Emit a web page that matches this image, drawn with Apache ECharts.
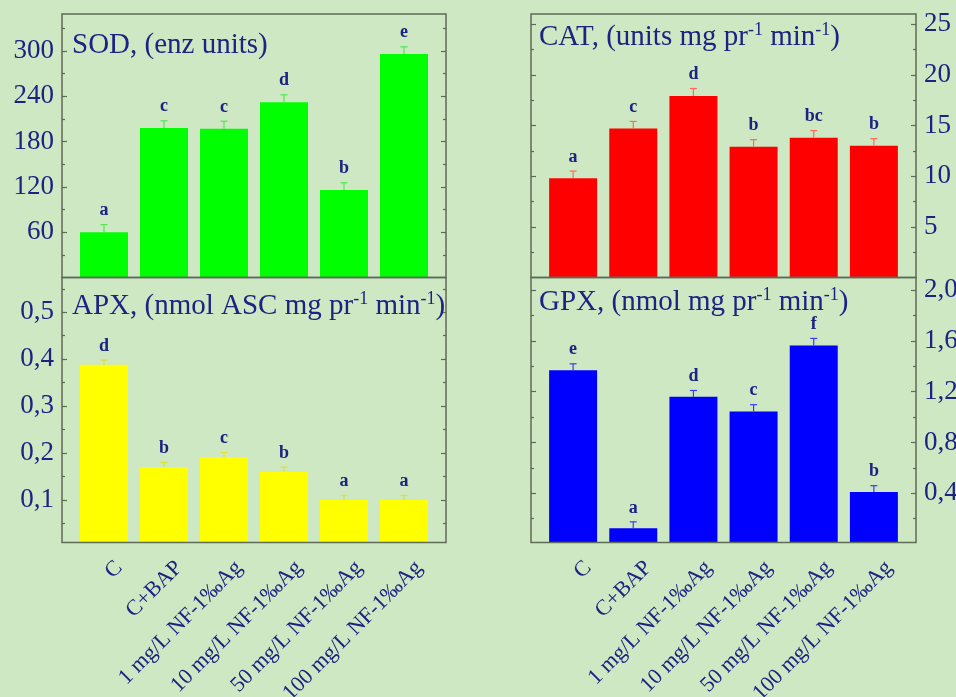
<!DOCTYPE html>
<html>
<head>
<meta charset="utf-8">
<script src="https://cdn.jsdelivr.net/npm/echarts@6/dist/echarts.min.js"></script>
<style>
html,body{margin:0;padding:0;background:#cde8c3;}
#chart{width:956px;height:697px;}
</style>
</head>
<body>
<div id="chart"></div>
<script>
// ---- data ----
const categories = ['C', 'C+BAP', '1 mg/L NF-1‰Ag', '10 mg/L NF-1‰Ag', '50 mg/L NF-1‰Ag', '100 mg/L NF-1‰Ag'];

const sodMean = [60, 198, 197, 232, 116, 296];
const sodErr = [10, 9.5, 10, 10, 9.5, 9.5];
const sodLetters = ['a', 'c', 'c', 'd', 'b', 'e'];
const sodTicks = [60, 120, 180, 240, 300];
const sodMinor = [30, 90, 150, 210, 270, 330];

const catMean = [9.8, 14.7, 17.9, 12.9, 13.8, 13.0];
const catErr = [0.7, 0.7, 0.75, 0.7, 0.7, 0.7];
const catLetters = ['a', 'c', 'd', 'b', 'bc', 'b'];
const catTicks = [5, 10, 15, 20, 25];
const catMinor = [2.5, 7.5, 12.5, 17.5, 22.5];

const apxMean = [0.388, 0.170, 0.191, 0.160, 0.100, 0.100];
const apxErr = [0.01, 0.01, 0.01, 0.01, 0.01, 0.01];
const apxLetters = ['d', 'b', 'c', 'b', 'a', 'a'];
const apxTicks = [0.1, 0.2, 0.3, 0.4, 0.5];
const apxMinor = [0.05, 0.15, 0.25, 0.35, 0.45, 0.55];

const gpxMean = [1.37, 0.125, 1.16, 1.045, 1.565, 0.41];
const gpxErr = [0.05, 0.05, 0.05, 0.053, 0.055, 0.05];
const gpxLetters = ['e', 'a', 'd', 'c', 'f', 'b'];
const gpxTicks = [0.4, 0.8, 1.2, 1.6, 2.0];
const gpxMinor = [0.2, 0.6, 1.0, 1.4, 1.8];

// ---- styling / layout ----
const NAVY = '#1e2282';
const FRAME = '#5e6b57';
const SERIF = '"Liberation Serif", "Times New Roman", serif';
const labelShift = 0.25;
const intFmt = v => String(v);
const decFmt = v => v.toFixed(1).replace('.', ',');

const panels = [
  {mean: sodMean, err: sodErr, letters: sodLetters, ticks: sodTicks, minor: sodMinor, fmt: intFmt,
   min: 0, max: 349, color: '#00ff00', errColor: '#4fe84f', side: 'left',
   left: 62, width: 384, top: 14, height: 263.5, xLabels: false,
   title: '{m|SOD, (enz units)}', titleLeft: 72, titleTop: 29},
  {mean: catMean, err: catErr, letters: catLetters, ticks: catTicks, minor: catMinor, fmt: intFmt,
   min: 0, max: 26, color: '#ff0000', errColor: '#ff6a5a', side: 'right',
   left: 531, width: 385, top: 14, height: 263.5, xLabels: false,
   title: '{m|CAT, (units mg pr}{s|-1}{m| min}{s|-1}{m|)}', titleLeft: 539, titleTop: 21},
  {mean: apxMean, err: apxErr, letters: apxLetters, ticks: apxTicks, minor: apxMinor, fmt: decFmt,
   min: 0.0095, max: 0.574, color: '#ffff00', errColor: '#e0e030', side: 'left',
   left: 62, width: 384, top: 277.5, height: 265, xLabels: true,
   title: '{m|APX, (nmol ASC mg pr}{s|-1}{m| min}{s|-1}{m|)}', titleLeft: 72, titleTop: 290},
  {mean: gpxMean, err: gpxErr, letters: gpxLetters, ticks: gpxTicks, minor: gpxMinor, fmt: decFmt,
   min: 0.0123, max: 2.1, color: '#0000ff', errColor: '#3a3aff', side: 'right',
   left: 531, width: 385, top: 277.5, height: 265, xLabels: true,
   title: '{m|GPX, (nmol mg pr}{s|-1}{m| min}{s|-1}{m|)}', titleLeft: 539, titleTop: 286}
];

const grid = [], xAxis = [], yAxis = [], series = [], title = [];

panels.forEach((p, k) => {
  grid.push({left: p.left, top: p.top, width: p.width, height: p.height, show: true,
    outerBoundsMode: 'none', containLabel: false,
    borderColor: FRAME, borderWidth: 1.5, backgroundColor: 'transparent', z: 10});

  xAxis.push({
    gridIndex: k, type: 'value', min: -0.7, max: 5.7, position: 'bottom',
    axisLine: {show: false, onZero: false}, axisTick: {show: false}, splitLine: {show: false},
    axisLabel: p.xLabels ? {
      show: true,
      customValues: categories.map((c, i) => i + labelShift),
      formatter: v => categories[Math.round(v - labelShift)],
      rotate: 45, margin: 22, fontSize: 22, fontFamily: SERIF, color: NAVY
    } : {show: false}
  });

  const base = yAxis.length;
  const other = p.side === 'left' ? 'right' : 'left';
  const mk = (pos, tickVals, len, withLabels) => ({
    gridIndex: k, type: 'value', position: pos, min: p.min, max: p.max,
    axisLine: {show: false, onZero: false}, splitLine: {show: false},
    axisTick: {show: true, inside: true, length: len, customValues: tickVals,
      lineStyle: {color: FRAME, width: 1.2}},
    axisLabel: withLabels ? {show: true, customValues: tickVals, formatter: p.fmt,
      fontSize: 27, fontFamily: SERIF, color: NAVY, margin: 8} : {show: false}
  });
  yAxis.push(mk(p.side, p.ticks, 5, true));
  yAxis.push(mk(p.side, p.minor, 3, false));
  yAxis.push(mk(other, p.ticks, 5, false));
  yAxis.push(mk(other, p.minor, 3, false));

  series.push({
    type: 'bar', xAxisIndex: k, yAxisIndex: base, barWidth: 48, silent: true,
    itemStyle: {color: p.color}, clip: true,
    data: p.mean.map((v, i) => [i, v])
  });

  series.push({
    type: 'custom', xAxisIndex: k, yAxisIndex: base, silent: true, z: 5,
    data: p.mean.map((v, i) => [i, v, p.err[i]]),
    renderItem: (params, api) => {
      const x = api.value(0), v = api.value(1), e = api.value(2);
      const p0 = api.coord([x, v]);
      const p1 = api.coord([x, v + e]);
      const letter = p.letters[params.dataIndex];
      return {
        type: 'group',
        children: [
          {type: 'line', shape: {x1: p0[0], y1: p0[1], x2: p1[0], y2: p1[1]},
           style: {stroke: p.errColor, lineWidth: 1.2}},
          {type: 'line', shape: {x1: p1[0] - 3.5, y1: p1[1], x2: p1[0] + 3.5, y2: p1[1]},
           style: {stroke: p.errColor, lineWidth: 1.2}},
          {type: 'text', x: p1[0], y: p1[1] - 5,
           style: {text: letter, fill: NAVY, font: 'bold 18px ' + SERIF,
             align: 'center', verticalAlign: 'bottom',
             textAlign: 'center', textVerticalAlign: 'bottom'}}
        ]
      };
    }
  });

  title.push({
    text: p.title, left: p.titleLeft, top: p.titleTop, padding: 0,
    textStyle: {
      fontWeight: 'normal',
      rich: {
        m: {fontSize: 29, fontFamily: SERIF, fontWeight: 'normal', color: NAVY, lineHeight: 32},
        s: {fontSize: 18, fontFamily: SERIF, fontWeight: 'normal', color: NAVY, lineHeight: 18, verticalAlign: 'top'}
      }
    }
  });
});

const chart = echarts.init(document.getElementById('chart'), null, {renderer: 'canvas'});
chart.setOption({
  backgroundColor: '#cde8c3',
  animation: false,
  title, grid, xAxis, yAxis, series
});
</script>
</body>
</html>
